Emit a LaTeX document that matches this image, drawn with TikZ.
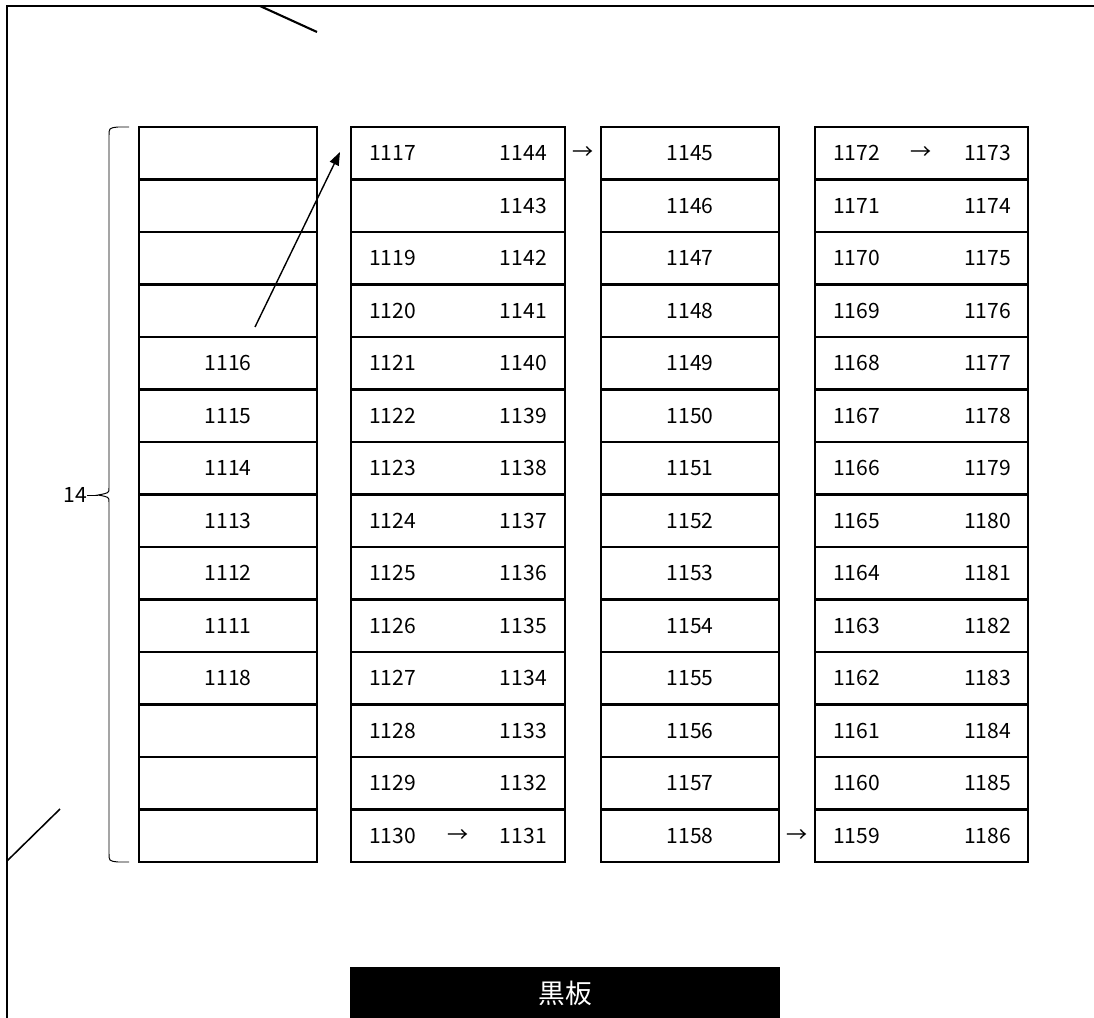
\documentclass[tikz,border=0pt]{standalone}
\usepackage{fontspec}
\setmainfont{Noto Sans CJK JP}
\usetikzlibrary{positioning, calc, arrows.meta}

\begin{document}
\begin{tikzpicture}[
    x=0.025cm, y=-0.025cm,
    cell/.style={rectangle, draw=black, line width=1.5pt, minimum height=1.3125cm, inner sep=0pt, outer sep=0pt, anchor=north west},
    narrow/.style={cell, minimum width=4.45cm},
    wide/.style={cell, minimum width=5.35cm},
    num/.style={inner sep=0pt, font=\fontsize{15}{18}\selectfont},
    wall/.style={line width=1.5pt},
    board/.style={rectangle, fill=black, text=white, minimum width=10.725cm, minimum height=1.3cm, anchor=north, font=\fontsize{19}{22}\selectfont}
]
\useasboundingbox (0,0) rectangle (1094,1018);

% Room walls
\draw[wall] (1094,6) -- (7,6) -- (7,1018);
\draw[wall] (260,6) -- (317,32);
\draw[line width=1.1pt] (60,809) -- (7,861);

% Column 1
\foreach \r in {1,...,14}
    \node[narrow] (c1-\r) at (139, 127+52.5*\r-52.5) {};
\foreach \r/\n in {5/1116, 6/1115, 7/1114, 8/1113, 9/1112, 10/1111, 11/1118}
    \node[num] at (c1-\r) {\n};

% Column 2
\foreach \r in {1,...,14}
    \node[wide] (c2-\r) at (351, 127+52.5*\r-52.5) {};
\foreach \r/\n in {1/1117, 3/1119, 4/1120, 5/1121, 6/1122, 7/1123, 8/1124, 9/1125, 10/1126, 11/1127, 12/1128, 13/1129, 14/1130}
    \node[num, anchor=west, right=0.45cm of c2-\r.west] {\n};
\foreach \r in {1,...,14}
    \pgfmathtruncatemacro{\n}{1145-\r}
    \node[num, anchor=east, left=0.45cm of c2-\r.east] {\n};
\node[num] (a2) at (c2-14) {→};

% Column 3
\foreach \r in {1,...,14}
    \pgfmathtruncatemacro{\n}{1144+\r}
    \node[narrow, font=\fontsize{15}{18}\selectfont] (c3-\r) at (601, 127+52.5*\r-52.5) {\n};

% Column 4
\foreach \r in {1,...,14}
    \node[wide, minimum width=5.325cm] (c4-\r) at (815, 127+52.5*\r-52.5) {};
\foreach \r in {1,...,14}
    \pgfmathtruncatemacro{\n}{1173-\r}
    \pgfmathtruncatemacro{\m}{1172+\r}
    \node[num, anchor=west, right=0.45cm of c4-\r.west] {\n}
    node[num, anchor=east, left=0.42cm of c4-\r.east] {\m};
\node[num] (a4) at (c4-1) {→};

% Arrows between columns
\node[num] (a23) at ($(c2-1.east)!0.5!(c3-1.west)$) {→};
\node[num] (a34) at ($(c3-14.east)!0.5!(c4-14.west)$) {→};

% Move arrow
\coordinate (from) at (255,327);
\coordinate (to) at (340,152);
\draw[line width=1pt, -{Triangle[length=3.3mm, width=2.4mm]}] (from) -- (to);

% Brace with count
\coordinate (btop) at (129,127);
\coordinate (bbot) at (129,862);
\coordinate (tip) at (98,495);
\draw[line width=0.7pt] (btop) -- (118,127) .. controls (109,128) .. (109,136) -- (109,488) .. controls (109,493) .. (tip)
    .. controls (109,497) .. (109,502) -- (109,853) .. controls (109,861) .. (118,862) -- (bbot);
\node[num, anchor=east] (cnt) at (87,495) {14};
\draw[line width=0.7pt] (cnt.east) -- (tip);

% Blackboard
\node[board] (kokuban) at (565,967) {黒板};
\end{tikzpicture}
\end{document}
